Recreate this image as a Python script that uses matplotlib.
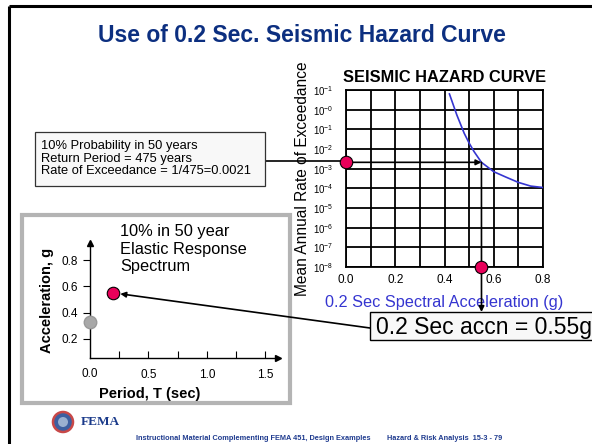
import numpy as np
import matplotlib
matplotlib.use("Agg")
import matplotlib.pyplot as plt
from matplotlib.patches import Rectangle, Circle

plt.rcParams['font.family'] = ['Liberation Sans', 'DejaVu Sans']
plt.rcParams['mathtext.fontset'] = 'custom'
plt.rcParams['mathtext.rm'] = 'Liberation Sans'
plt.rcParams['mathtext.it'] = 'Liberation Sans:italic'
plt.rcParams['mathtext.bf'] = 'Liberation Sans:bold'

# hazard curve (0.2 sec spectral acceleration vs. annual rate of exceedance)
hazard_sa = [0.42, 0.45, 0.48, 0.50, 0.52, 0.55, 0.60, 0.65, 0.70, 0.75, 0.80]
hazard_rate = [6.3, 0.54, 0.063, 0.02, 0.0074, 0.0021, 0.0007, 0.00037, 0.0002, 0.00013, 0.00011]
hazard_ytick_vals = [1e1, 1e0, 1e-1, 1e-2, 1e-3, 1e-4, 1e-5, 1e-6, 1e-7, 1e-8]
hazard_ytick_text = ['$10^{-1}$', '$10^{-0}$', '$10^{-1}$', '$10^{-2}$', '$10^{-3}$',
                     '$10^{-4}$', '$10^{-5}$', '$10^{-6}$', '$10^{-7}$', '$10^{-8}$']
hazard_xticks = [0.0, 0.1, 0.2, 0.3, 0.4, 0.5, 0.6, 0.7, 0.8]
hazard_xtick_text = ['0.0', '', '0.2', '', '0.4', '', '0.6', '', '0.8']

target_rate = 0.0021   # 1/475
target_sa = 0.55

# response spectrum points
period_ss = 0.2
accel_ss = 0.55
period_pga = 0.0
accel_pga = 0.33
spec_xticks = [0.25, 0.5, 0.75, 1.0, 1.25, 1.5]
spec_xtick_text = ['', '0.5', '', '1.0', '', '1.5']
spec_yticks = [0.2, 0.4, 0.6, 0.8]

W, H = 592, 444
fig = plt.figure(figsize=(W / 100, H / 100), dpi=100)
fig.patch.set_facecolor('white')

def box(l, t, r, b):
    return [l / W, 1 - b / H, (r - l) / W, (b - t) / H]

navy = '#0c2f80'
pink = '#e8005a'
curve_blue = '#3535d0'

# ---- hazard curve axes
axh = fig.add_axes(box(346, 90, 543, 267))
axh.plot(hazard_sa, hazard_rate, color=curve_blue, lw=1.2, zorder=3)
axh.set_yscale('log')
axh.set_xlim(0, 0.8)
axh.set_ylim(1e-8, 1e1)
axh.set_yticks(hazard_ytick_vals)
axh.set_yticklabels(hazard_ytick_text)
axh.yaxis.set_minor_locator(matplotlib.ticker.NullLocator())
axh.set_xticks(hazard_xticks)
axh.set_xticklabels(hazard_xtick_text)
axh.tick_params(length=0, labelsize=8.5, pad=5)
axh.tick_params(axis='y', labelsize=7, pad=9)
axh.grid(True, color='black', lw=1.3)
for s in axh.spines.values():
    s.set_linewidth(1.3)
axh.set_title('SEISMIC HAZARD CURVE', fontsize=11.8, fontweight='bold', pad=6)
axh.set_ylabel('Mean Annual Rate of Exceedance', fontsize=11.2)
axh.yaxis.set_label_coords(-0.185, 0.5)
axh.set_xlabel('0.2 Sec Spectral Acceleration (g)', fontsize=11.7, color=curve_blue)
axh.xaxis.set_label_coords(0.5, -0.16)

# ---- response spectrum axes
axs = fig.add_axes(box(90, 243, 278, 358))
axs.set_xlim(0, 1.607)
axs.set_ylim(0.053, 0.931)
for side in ['top', 'right']:
    axs.spines[side].set_visible(False)
axs.spines['left'].set_linewidth(1.0)
axs.spines['bottom'].set_linewidth(1.0)
axs.plot(1, 0, '>k', ms=4, transform=axs.transAxes, clip_on=False)
axs.plot(0, 1, '^k', ms=4, transform=axs.transAxes, clip_on=False)
axs.set_xticks(spec_xticks)
axs.set_xticklabels(spec_xtick_text)
axs.set_yticks(spec_yticks)
axs.tick_params(axis='x', direction='in', length=5, labelsize=8.5, pad=8)
axs.tick_params(axis='y', direction='out', length=5, labelsize=8.5)
axs.text(0, -0.09, '0.0', fontsize=8.5, ha='center', va='top', transform=axs.transAxes)
axs.set_xlabel('Period, T (sec)', fontsize=10.5, fontweight='bold')
axs.xaxis.set_label_coords(0.32, -0.25)
axs.set_ylabel('Acceleration, g', fontsize=10.5, fontweight='bold')
axs.yaxis.set_label_coords(-0.19, 0.5)
axs.plot([period_pga], [accel_pga], 'o', ms=9, mfc='#a8a8a8', mec='#999999',
         clip_on=False, zorder=5)

# ---- overlay in pixel coordinates
ov = fig.add_axes([0, 0, 1, 1], zorder=10)
ov.set_xlim(0, W)
ov.set_ylim(H, 0)
ov.axis('off')

# slide border
ov.plot([9, W], [6, 6], color='black', lw=2.2, solid_capstyle='butt')
ov.plot([9, 9], [6, H], color='black', lw=2.2, solid_capstyle='butt')

ov.text(302, 36, 'Use of 0.2 Sec. Seismic Hazard Curve', fontsize=16.5,
        fontweight='bold', color=navy, ha='center', va='center')

# spectrum frame (drawn beneath the spectrum axes)
fig.patches.append(Rectangle((22 / W, 1 - 403 / H), 268 / W, 188 / H,
                             transform=fig.transFigure, fill=False,
                             edgecolor='#b4b4b4', lw=3, zorder=0))
ov.text(120, 224, '10% in 50 year\nElastic Response\nSpectrum', fontsize=11.8,
        ha='left', va='top', linespacing=1.22)

# probability text box
ov.add_patch(Rectangle((35, 132), 230, 54, fc='#f8f8f8', ec='#333333', lw=0.9, zorder=2))
ov.text(41, 158.5, '10% Probability in 50 years\nReturn Period = 475 years\n'
        'Rate of Exceedance = 1/475=0.0021', fontsize=9.3, ha='left',
        va='center', linespacing=1.08, zorder=3)

# line from text box to curve
ov.plot([265, 346], [161.5, 161.5], color='black', lw=1.2, zorder=1)
ov.annotate('', xy=(target_sa, target_rate), xycoords=axh.transData,
            xytext=(0.0, target_rate), textcoords=axh.transData,
            arrowprops=dict(arrowstyle='-|>', color='black', lw=1.2,
                            mutation_scale=8, shrinkA=0, shrinkB=0))
# vertical drop to the result box
ov.annotate('', xy=(481.5, 312), xycoords='data',
            xytext=(target_sa, target_rate), textcoords=axh.transData,
            arrowprops=dict(arrowstyle='-|>', color='black', lw=1.2,
                            mutation_scale=8, shrinkA=0, shrinkB=0))

# dots on the hazard axes
ov.plot([0.0, target_sa], [target_rate, 1e-8], 'o', ms=9, mfc=pink, mec='black',
        mew=0.8, transform=axh.transData, zorder=6, clip_on=False)

# result box
ov.add_patch(Rectangle((370, 312), 240, 28, fc='#f8f8f8', ec='black', lw=1.0, zorder=4))
ov.text(376, 327, '0.2 Sec accn = 0.55g', fontsize=16.5, ha='left', va='center', zorder=5)

# arrow from result box to the spectrum point
ov.annotate('', xy=(period_ss, accel_ss), xycoords=axs.transData,
            xytext=(370, 328), textcoords='data',
            arrowprops=dict(arrowstyle='-|>', color='black', lw=1.2,
                            mutation_scale=8, shrinkA=0, shrinkB=5))
ov.plot([period_ss], [accel_ss], 'o', ms=9, mfc=pink, mec='black', mew=0.8,
        transform=axs.transData, zorder=6)

# footer
ov.add_patch(Circle((63, 422), 10, fc='#3d5fa0', ec='#c84848', lw=1.8, zorder=4))
ov.add_patch(Circle((63, 422), 5, fc='#9ab0d0', ec='none', zorder=5))
ov.text(81, 422, 'FEMA', fontsize=9.5, fontweight='bold', family='Liberation Serif',
        color='#1a3a8a', ha='left', va='center')
ov.text(136, 438, 'Instructional Material Complementing FEMA 451, Design Examples',
        fontsize=5.3, fontweight='bold', color='#1f3b8f', ha='left', va='center')
ov.text(387, 438, 'Hazard & Risk Analysis  15-3 - 79', fontsize=5.3,
        fontweight='bold', color='#1f3b8f', ha='left', va='center')

fig.savefig('out.png', dpi=100)
